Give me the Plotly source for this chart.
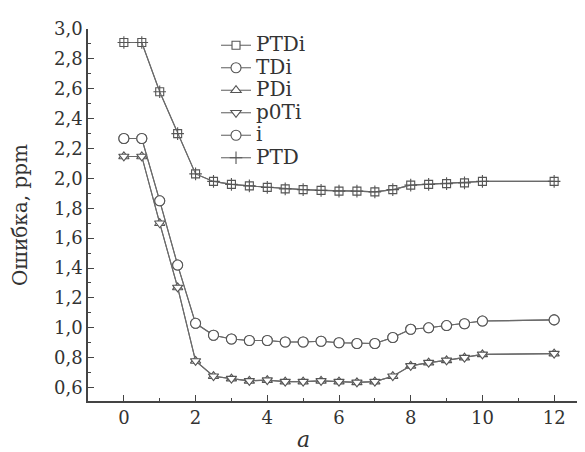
import plotly.graph_objects as go

a_vals = [0, 0.5, 1, 1.5, 2, 2.5, 3, 3.5, 4, 4.5, 5, 5.5, 6, 6.5, 7, 7.5, 8, 8.5, 9, 9.5, 10, 12]

err_top = [2.91, 2.91, 2.58, 2.30, 2.03, 1.98, 1.96, 1.95, 1.94, 1.93, 1.925, 1.92, 1.915, 1.915, 1.91,
           1.925, 1.955, 1.96, 1.965, 1.97, 1.98, 1.98]
err_mid = [2.267, 2.267, 1.85, 1.42, 1.03, 0.95, 0.925, 0.915, 0.915, 0.905, 0.905, 0.91, 0.90, 0.895, 0.895,
           0.935, 0.99, 1.0, 1.015, 1.027, 1.045, 1.053]
err_low = [2.147, 2.147, 1.70, 1.27, 0.778, 0.676, 0.66, 0.645, 0.65, 0.64, 0.64, 0.645, 0.64, 0.635, 0.64,
           0.676, 0.745, 0.767, 0.782, 0.80, 0.822, 0.827]

series_names = ["PTDi", "TDi", "PDi", "p0Ti", "i", "PTD"]
series_data = [err_top, err_mid, err_low, err_low, err_mid, err_top]
series_symbols = ["square", "circle", "triangle-up", "triangle-down", "circle", "cross-thin"]
series_sizes = [8, 10, 9, 9, 10, 9]

LINE = "#6a6a6a"
MARK = "#555555"

fig = go.Figure()
for name, ys, sym, sz in zip(series_names, series_data, series_symbols, series_sizes):
    thin = sym.endswith("thin")
    fig.add_trace(go.Scatter(
        x=a_vals, y=ys, mode="lines+markers",
        name='<span style="font-size:20px">' + name + "</span>",
        line=dict(color=LINE, width=1.1),
        marker=dict(symbol=sym, size=sz, color=MARK if thin else "white",
                    line=dict(color=MARK, width=1.1)),
    ))

tick_font = dict(family="DejaVu Serif", size=18, color="#333333")

fig.update_layout(
    width=585, height=452,
    margin=dict(l=80, r=3, t=21, b=59),
    paper_bgcolor="white", plot_bgcolor="white",
    separators=", ",
    showlegend=True,
    legend=dict(x=0.255, y=1.0, xanchor="left", yanchor="top",
                font=dict(family="DejaVu Serif", size=15, color="#333333"),
                bgcolor="rgba(0,0,0,0)", borderwidth=0, tracegroupgap=0),
    xaxis=dict(range=[-1, 13], tick0=0, dtick=2, ticks="inside", ticklen=6, tickwidth=1.2,
               tickcolor="#444444", showline=True, linecolor="#444444", linewidth=1.5,
               showgrid=False, zeroline=False, tickfont=tick_font,
               minor=dict(dtick=1, ticks="inside", ticklen=3, tickcolor="#444444", showgrid=False)),
    yaxis=dict(range=[0.51, 3.0], tick0=0.6, dtick=0.2, tickformat=".1f", ticks="inside", ticklen=6,
               tickwidth=1.2, tickcolor="#444444", showline=True, linecolor="#444444", linewidth=1.5,
               showgrid=False, zeroline=False, tickfont=tick_font,
               title=dict(text="Ошибка, ppm", font=dict(family="DejaVu Serif", size=20, color="#333333"),
                          standoff=22),
               minor=dict(dtick=0.1, ticks="inside", ticklen=3, tickcolor="#444444", showgrid=False)),
)

fig.add_annotation(x=5, y=0, xref="x", yref="paper", yshift=-38, text="<i>a</i>", showarrow=False,
                   font=dict(family="DejaVu Serif", size=22, color="#333333"), yanchor="middle")

fig.write_html("out.html")
